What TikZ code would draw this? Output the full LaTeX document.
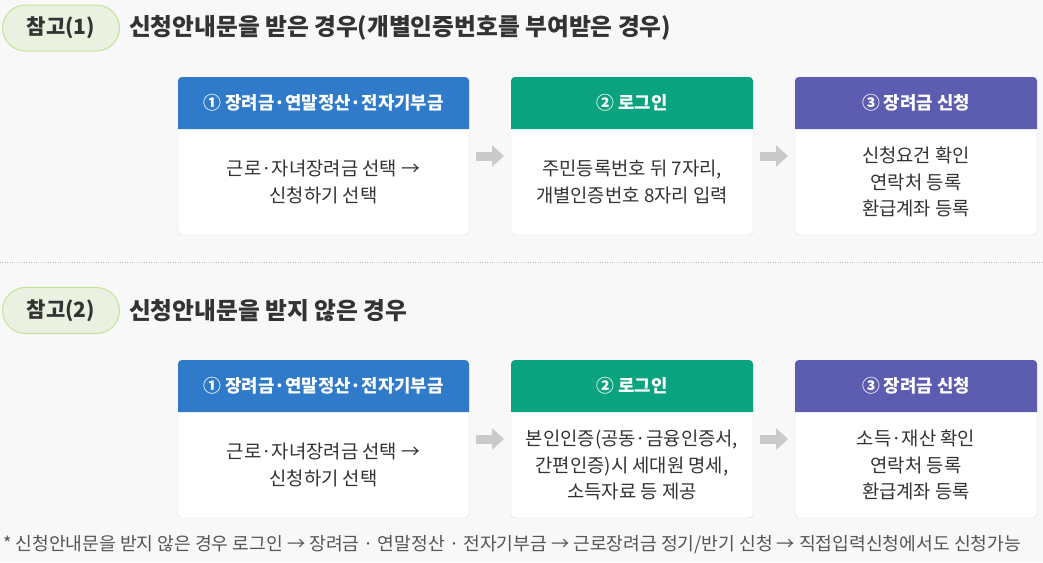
\documentclass[tikz,border=0pt]{standalone}
\usepackage{fontspec}
\setmainfont{Noto Sans CJK KR}
\usetikzlibrary{arrows.meta}

\definecolor{pagebg}{HTML}{F8F8F8}
\definecolor{hdblue}{HTML}{2F7BC9}
\definecolor{hdgreen}{HTML}{0AA37F}
\definecolor{hdpurple}{HTML}{5C5CB0}
\definecolor{txtdark}{HTML}{333333}
\definecolor{notegray}{HTML}{555555}
\definecolor{pillfill}{HTML}{EBF1E1}
\definecolor{pillline}{HTML}{C3E39A}
\definecolor{cardline}{HTML}{DADADA}
\definecolor{arrowgray}{HTML}{CACACA}

\begin{document}
\begin{tikzpicture}[x=1pt,y=-1pt]
	\tikzstyle{every node}+=[inner sep=0pt, outer sep=0pt]
	\tikzstyle{pill}=[draw=pillline, fill=pillfill, line width=1pt, rounded corners=23pt, minimum width=117pt, minimum height=46pt, font=\fontsize{21}{21}\selectfont\bfseries, text=txtdark]
	\tikzstyle{title}=[anchor=west, font=\fontsize{23.7}{23.7}\selectfont\bfseries, text=txtdark]
	\tikzstyle{card}=[draw=cardline, fill=white, rounded corners=4pt, minimum height=158pt, anchor=north west]
	\tikzstyle{headtxt}=[text=white, font=\fontsize{17.8}{17.8}\selectfont\bfseries]
	\tikzstyle{bodytxt}=[align=center, text=txtdark, font=\fontsize{18.8}{26.5}\selectfont]
	\tikzstyle{flow}=[arrowgray, line width=9pt, -{Triangle[length=12pt,width=21pt]}, shorten <=7pt, shorten >=7pt]
	\fill [pagebg] (0,0) rectangle (1043,562);
	\useasboundingbox (0,0) rectangle (1043,562);
	% part 1
	\node [pill] (ref1) at (61,28) {참고(1)};
	\node [title] (tit1) at (129,28) {신청안내문을 받은 경우(개별인증번호를 부여받은 경우)};
	\node [card, minimum width=291pt] (c1) at (178,77) {};
	\node [card, minimum width=242pt] (c2) at (511,77) {};
	\node [card, minimum width=242pt] (c3) at (795,77) {};
	\fill [hdblue] ([yshift=-52pt]c1.north west) {[rounded corners=4pt] -- (c1.north west) -- (c1.north east)} -- ([yshift=-52pt]c1.north east) -- cycle;
	\fill [hdgreen] ([yshift=-52pt]c2.north west) {[rounded corners=4pt] -- (c2.north west) -- (c2.north east)} -- ([yshift=-52pt]c2.north east) -- cycle;
	\fill [hdpurple] ([yshift=-52pt]c3.north west) {[rounded corners=4pt] -- (c3.north west) -- (c3.north east)} -- ([yshift=-52pt]c3.north east) -- cycle;
	\node [headtxt] (h1) at ([yshift=-26pt]c1.north) {① 장려금·연말정산·전자기부금};
	\node [headtxt] (h2) at ([yshift=-26pt]c2.north) {② 로그인};
	\node [headtxt] (h3) at ([yshift=-26pt]c3.north) {③ 장려금 신청};
	\node [bodytxt] (t1) at ([yshift=-26pt]c1.center) {근로·자녀장려금 선택 →\\신청하기 선택};
	\node [bodytxt] (t2) at ([yshift=-26pt]c2.center) {주민등록번호 뒤 7자리,\\개별인증번호 8자리 입력};
	\node [bodytxt] (t3) at ([yshift=-26pt]c3.center) {신청요건 확인\\연락처 등록\\환급계좌 등록};
	\draw [flow] (c1) -- (c2);
	\draw [flow] (c2) -- (c3);
	\draw [black!25, dotted] (0,262) -- (1043,262);
	% part 2
	\node [pill] (ref2) at (61,310.5) {참고(2)};
	\node [title] (tit2) at (129,310.5) {신청안내문을 받지 않은 경우};
	\node [card, minimum width=291pt] (c4) at (178,360) {};
	\node [card, minimum width=242pt] (c5) at (511,360) {};
	\node [card, minimum width=242pt] (c6) at (795,360) {};
	\fill [hdblue] ([yshift=-52pt]c4.north west) {[rounded corners=4pt] -- (c4.north west) -- (c4.north east)} -- ([yshift=-52pt]c4.north east) -- cycle;
	\fill [hdgreen] ([yshift=-52pt]c5.north west) {[rounded corners=4pt] -- (c5.north west) -- (c5.north east)} -- ([yshift=-52pt]c5.north east) -- cycle;
	\fill [hdpurple] ([yshift=-52pt]c6.north west) {[rounded corners=4pt] -- (c6.north west) -- (c6.north east)} -- ([yshift=-52pt]c6.north east) -- cycle;
	\node [headtxt] (h4) at ([yshift=-26pt]c4.north) {① 장려금·연말정산·전자기부금};
	\node [headtxt] (h5) at ([yshift=-26pt]c5.north) {② 로그인};
	\node [headtxt] (h6) at ([yshift=-26pt]c6.north) {③ 장려금 신청};
	\node [bodytxt] (t4) at ([yshift=-26pt]c4.center) {근로·자녀장려금 선택 →\\신청하기 선택};
	\node [bodytxt] (t5) at ([yshift=-26pt]c5.center) {본인인증(공동·금융인증서,\\간편인증)시 세대원 명세,\\소득자료 등 제공};
	\node [bodytxt] (t6) at ([yshift=-26pt]c6.center) {소득·재산 확인\\연락처 등록\\환급계좌 등록};
	\draw [flow] (c4) -- (c5);
	\draw [flow] (c5) -- (c6);
	\node [anchor=west, text=notegray, font=\fontsize{18.2}{18.2}\selectfont] (note) at (3,545) {* 신청안내문을 받지 않은 경우 로그인 → 장려금 · 연말정산 · 전자기부금 → 근로장려금 정기/반기 신청 → 직접입력신청에서도 신청가능};
\end{tikzpicture}
\end{document}
